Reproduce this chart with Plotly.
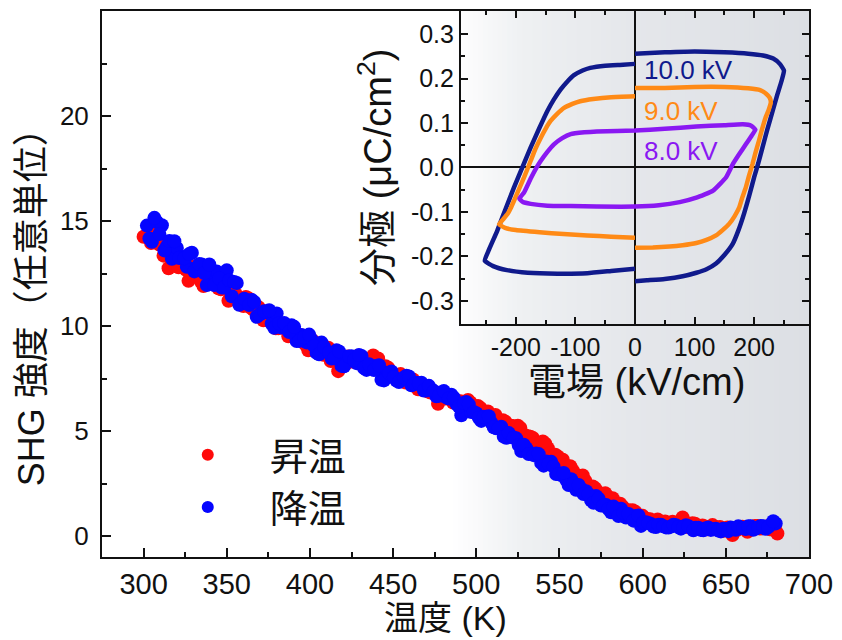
import plotly.graph_objects as go

# ---------------- main panel: SHG intensity vs temperature ----------------
temp_heating = [300, 303, 306, 309, 312, 315, 318, 321, 324, 327, 330, 333, 336, 339, 342, 345,
                348, 351, 354, 357, 360, 363, 366, 369, 372, 375, 378, 381, 384, 387, 390, 393,
                396, 399, 402, 405, 408, 411, 414, 417, 420, 423, 426, 429, 432, 435, 438, 441,
                444, 447, 450, 453, 456, 459, 462, 465, 468, 471, 474, 477, 480, 483, 486, 489,
                492, 495, 498, 501, 504, 507, 510, 513, 516, 519, 522, 525, 528, 531, 534, 537,
                540, 543, 546, 549, 552, 555, 558, 561, 564, 567, 570, 573, 576, 579, 582, 585,
                588, 591, 594, 597, 600, 603, 606, 609, 612, 615, 618, 621, 624, 627, 630, 633,
                636, 639, 642, 645, 648, 651, 654, 657, 660, 663, 666, 669, 672, 675, 678, 681,
                301.5, 304.5, 307.5, 310.5, 313.5, 316.5, 319.5, 322.5, 325.5, 328.5, 331.5, 334.5,
                337.5, 340.5, 343.5, 346.5, 349.5, 352.5, 355.5, 358.5, 361.5, 364.5, 367.5, 370.5,
                373.5, 376.5, 379.5, 382.5, 385.5, 388.5, 391.5, 394.5, 397.5, 400.5, 403.5, 406.5,
                409.5, 412.5, 415.5, 418.5, 421.5, 424.5, 427.5, 430.5, 433.5, 436.5, 439.5, 442.5,
                445.5, 448.5, 451.5, 454.5, 457.5, 460.5, 463.5, 466.5, 469.5, 472.5, 475.5, 478.5,
                481.5, 484.5, 487.5, 490.5, 493.5, 496.5, 499.5, 502.5, 505.5, 508.5, 511.5, 514.5,
                517.5, 520.5, 523.5, 526.5, 529.5, 532.5, 535.5, 538.5, 541.5, 544.5, 547.5, 550.5,
                553.5, 556.5, 559.5, 562.5, 565.5, 568.5, 571.5, 574.5, 577.5, 580.5, 583.5, 586.5,
                589.5, 592.5, 595.5, 598.5, 601.5, 604.5, 607.5, 610.5, 613.5, 616.5, 619.5, 622.5,
                625.5, 628.5, 631.5, 634.5, 637.5, 640.5, 643.5, 646.5, 649.5, 652.5, 655.5, 658.5,
                661.5, 664.5, 667.5, 670.5, 673.5, 676.5, 679.5]
shg_heating = [14.25, 14.3, 14.5, 13.9, 13.35, 12.75, 13.35, 12.8, 13.25, 12.15, 12.4, 12.9,
               11.9, 12.3, 12.25, 11.8, 12.15, 11.2, 11.65, 11.35, 10.95, 11.32, 10.77, 10.9,
               10.27, 10.4, 10.56, 9.89, 9.98, 9.51, 9.88, 9.41, 9.46, 8.84, 9.29, 8.94,
               8.63, 8.97, 8.35, 7.85, 8.08, 8.55, 8.3, 8.58, 8.09, 8.32, 8.6, 8.45,
               7.87, 8.01, 7.6, 7.62, 7.63, 7.33, 7.45, 6.99, 7.04, 6.88, 6.91, 6.3,
               6.67, 6.65, 6.36, 6.4, 6.22, 6.48, 6.16, 6.19, 5.75, 5.93, 5.72, 5.48,
               5.51, 5.15, 5.24, 5.25, 4.79, 4.75, 4.67, 4.36, 4.5, 4.18, 3.77, 3.79,
               3.63, 3.21, 3.12, 2.82, 2.88, 2.38, 2.36, 2.1, 1.75, 1.87, 1.8, 1.39,
               1.39, 1.23, 1.23, 0.8, 0.96, 0.8, 0.65, 0.79, 0.56, 0.63, 0.68, 0.54,
               0.88, 0.43, 0.61, 0.42, 0.5, 0.32, 0.52, 0.4, 0.24, 0.41, 0.05, 0.3,
               0.44, 0.2, 0.42, 0.48, 0.37, 0.45, 0.31, 0.12,
               14.3, 13.95, 14.32, 13.84, 13.68, 13.16, 13.35, 13.09, 12.68, 12.86, 12.5, 12.11,
               12.43, 12.13, 12.06, 11.75, 12.02, 11.51, 11.52, 11.02, 11.38, 10.87, 10.81, 10.78,
               10.3, 10.39, 9.89, 9.98, 10.04, 9.56, 9.59, 9.56, 9.1, 9.4, 8.95, 8.74,
               8.82, 8.33, 8.53, 8.58, 8.2, 8.42, 8.54, 8.22, 8.02, 8.3, 8.13, 7.85,
               8.08, 7.8, 7.63, 7.71, 7.31, 7.37, 7.27, 6.98, 7.08, 6.83, 6.78, 6.52,
               6.55, 6.62, 6.34, 6.42, 6.29, 6.36, 5.99, 6.1, 5.9, 5.7, 5.76, 5.35,
               5.44, 5.25, 5.06, 5.14, 4.79, 4.73, 4.42, 4.42, 4.39, 3.94, 3.87, 3.67,
               3.36, 3.32, 2.94, 2.83, 2.63, 2.22, 2.27, 1.98, 2.04, 1.75, 1.51, 1.54,
               1.19, 1.22, 1.16, 0.89, 0.85, 0.8, 0.58, 0.69, 0.69, 0.54, 0.61, 0.61,
               0.67, 0.49, 0.58, 0.38, 0.45, 0.4, 0.35, 0.43, 0.33, 0.39, 0.25, 0.39,
               0.36, 0.32, 0.48, 0.36, 0.44, 0.32, 0.43]

temp_cooling = [302, 305, 308, 311, 314, 317, 320, 323, 326, 329, 332, 335, 338, 341, 344, 347,
                350, 353, 356, 359, 362, 365, 368, 371, 374, 377, 380, 383, 386, 389, 392, 395,
                398, 401, 404, 407, 410, 413, 416, 419, 422, 425, 428, 431, 434, 437, 440, 443,
                446, 449, 452, 455, 458, 461, 464, 467, 470, 473, 476, 479, 482, 485, 488, 491,
                494, 497, 500, 503, 506, 509, 512, 515, 518, 521, 524, 527, 530, 533, 536, 539,
                542, 545, 548, 551, 554, 557, 560, 563, 566, 569, 572, 575, 578, 581, 584, 587,
                590, 593, 596, 599, 602, 605, 608, 611, 614, 617, 620, 623, 626, 629, 632, 635,
                638, 641, 644, 647, 650, 653, 656, 659, 662, 665, 668, 671, 674, 677, 680,
                303.5, 306.5, 309.5, 312.5, 315.5, 318.5, 321.5, 324.5, 327.5, 330.5, 333.5, 336.5,
                339.5, 342.5, 345.5, 348.5, 351.5, 354.5, 357.5, 360.5, 363.5, 366.5, 369.5, 372.5,
                375.5, 378.5, 381.5, 384.5, 387.5, 390.5, 393.5, 396.5, 399.5, 402.5, 405.5, 408.5,
                411.5, 414.5, 417.5, 420.5, 423.5, 426.5, 429.5, 432.5, 435.5, 438.5, 441.5, 444.5,
                447.5, 450.5, 453.5, 456.5, 459.5, 462.5, 465.5, 468.5, 471.5, 474.5, 477.5, 480.5,
                483.5, 486.5, 489.5, 492.5, 495.5, 498.5, 501.5, 504.5, 507.5, 510.5, 513.5, 516.5,
                519.5, 522.5, 525.5, 528.5, 531.5, 534.5, 537.5, 540.5, 543.5, 546.5, 549.5, 552.5,
                555.5, 558.5, 561.5, 564.5, 567.5, 570.5, 573.5, 576.5, 579.5, 582.5, 585.5, 588.5,
                591.5, 594.5, 597.5, 600.5, 603.5, 606.5, 609.5, 612.5, 615.5, 618.5, 621.5, 624.5,
                627.5, 630.5, 633.5, 636.5, 639.5, 642.5, 645.5, 648.5, 651.5, 654.5, 657.5, 660.5,
                663.5, 666.5, 669.5, 672.5, 675.5, 678.5]
shg_cooling = [14.78, 14.01, 14.95, 14.8, 13.79, 13.2, 13.72, 13.3, 12.82, 13.49, 12.79, 12.93,
               11.95, 12.52, 12.59, 11.83, 12.65, 11.42, 12.05, 11.13, 11.23, 11.24, 10.44, 10.61,
               10.66, 10.11, 10.6, 9.93, 9.9, 10.03, 9.28, 9.57, 9.22, 9.35, 8.72, 9.21,
               8.79, 8.45, 8.84, 8.1, 8.53, 8.56, 8.23, 8.57, 7.91, 8.05, 8.1, 7.44,
               7.77, 7.83, 7.4, 7.43, 7.63, 7.18, 7.3, 7.3, 6.93, 6.98, 6.65, 6.85,
               6.6, 6.73, 6.3, 5.75, 6.38, 5.9, 5.85, 5.48, 5.68, 5.4, 5.13, 5.2,
               4.68, 4.73, 4.65, 4.05, 4.18, 3.93, 3.93, 3.48, 3.55, 3.53, 2.95, 2.9,
               2.68, 2.7, 2.2, 2.25, 2.13, 1.7, 1.9, 1.45, 1.48, 1.13, 1.23, 1.3,
               0.88, 0.88, 0.95, 0.48, 0.65, 0.57, 0.43, 0.53, 0.41, 0.45, 0.51, 0.35,
               0.51, 0.38, 0.39, 0.29, 0.37, 0.29, 0.35, 0.22, 0.32, 0.4, 0.3, 0.41,
               0.33, 0.46, 0.36, 0.48, 0.34, 0.54, 0.6,
               14.17, 15.15, 14.38, 13.6, 14.05, 14.04, 13.24, 13.23, 13.43, 12.6, 12.95, 12.52,
               12.93, 11.95, 12.26, 11.83, 12.18, 12.1, 11.01, 11.3, 11.0, 11.14, 10.53, 10.7,
               10.75, 9.92, 10.13, 10.14, 9.71, 9.96, 9.29, 9.46, 9.59, 9.04, 8.65, 9.0,
               8.74, 8.47, 8.79, 8.08, 8.55, 8.38, 8.62, 8.0, 8.18, 7.9, 8.13, 7.41,
               7.76, 7.56, 7.33, 7.55, 7.6, 7.23, 7.25, 6.93, 7.15, 6.9, 6.68, 6.9,
               6.55, 6.58, 6.16, 6.33, 6.26, 5.9, 5.63, 5.68, 5.7, 5.18, 5.13, 4.73,
               4.9, 4.68, 4.33, 4.35, 3.9, 3.85, 3.9, 3.35, 3.43, 3.3, 2.95, 3.0,
               2.43, 2.5, 2.43, 2.0, 1.98, 1.58, 1.78, 1.45, 1.28, 1.4, 0.95, 1.1,
               1.05, 0.73, 0.98, 0.64, 0.62, 0.45, 0.54, 0.46, 0.4, 0.53, 0.43, 0.43,
               0.47, 0.27, 0.39, 0.27, 0.4, 0.32, 0.26, 0.35, 0.23, 0.34, 0.46, 0.38,
               0.46, 0.3, 0.4, 0.47, 0.43, 0.7]

series_names = ["昇温", "降温"]

# ---------------- inset: P-E hysteresis loops ----------------
field_10kv = [0, 50, 100, 150, 190, 215, 232, 243, 250, 246, 238, 231, 222, 214, 207, 200, 192, 183,
              174, 164, 150, 136, 120, 103, 80, 50, 20, 0, None,
              0, -40, -80, -130, -180, -215, -238, -252, -245, -231, -217, -203, -189, -175, -161,
              -147, -136, -125, -113, -103, -88, -75, -50, -20, 0]
pol_10kv = [0.256, 0.259, 0.261, 0.259, 0.256, 0.252, 0.245, 0.233, 0.218, 0.195, 0.16, 0.127,
            0.085, 0.045, 0.01, -0.022, -0.062, -0.104, -0.14, -0.172, -0.197, -0.216, -0.229,
            -0.237, -0.245, -0.251, -0.254, -0.256, None,
            -0.228, -0.233, -0.238, -0.239, -0.237, -0.231, -0.222, -0.21, -0.185, -0.142,
            -0.093, -0.045, 0.0, 0.045, 0.087, 0.127, 0.153, 0.175, 0.194, 0.207, 0.218,
            0.224, 0.229, 0.231, 0.233]

field_9kv = [0, 50, 100, 150, 190, 210, 220, 226, 228, 224, 219, 213, 208, 202, 197, 191, 186, 180,
             175, 167, 158, 147, 136, 120, 103, 80, 58, 30, 0, None,
             0, -40, -80, -120, -160, -200, -218, -228, -222, -214, -208, -203, -195, -186, -175,
             -167, -158, -150, -142, -131, -119, -105, -92, -70, -40, 0]
pol_9kv = [0.179, 0.179, 0.181, 0.181, 0.178, 0.174, 0.166, 0.157, 0.147, 0.128, 0.112, 0.085,
           0.06, 0.032, 0.007, -0.02, -0.045, -0.068, -0.09, -0.11, -0.127, -0.141, -0.153,
           -0.163, -0.17, -0.175, -0.178, -0.18, -0.181, None,
           -0.158, -0.156, -0.153, -0.15, -0.146, -0.141, -0.136, -0.128, -0.118, -0.105,
           -0.09, -0.075, -0.05, -0.022, 0.015, 0.042, 0.067, 0.087, 0.104, 0.12, 0.134,
           0.143, 0.149, 0.154, 0.158, 0.16]

field_8kv = [-194, -186, -175, -165, -158, -147, -136, -122, -108, -85, -64, -30, 0, 50, 103, 150,
             181, 195, 202, 196, 186, 175, 164, 153, 131, 103, 75, 40, 0, -64, -108, -147, -175,
             -188, -194]
pol_8kv = [-0.07, -0.056, -0.025, 0.0, 0.015, 0.035, 0.052, 0.066, 0.075, 0.079, 0.081, 0.082,
           0.083, 0.087, 0.092, 0.095, 0.097, 0.094, 0.085, 0.072, 0.052, 0.03, 0.007, -0.022,
           -0.052, -0.068, -0.078, -0.085, -0.088, -0.088, -0.087, -0.086, -0.082, -0.078, -0.07]

loop_labels = ["10.0 kV", "9.0 kV", "8.0 kV"]
loop_colors = ["#101a8c", "#ff8a16", "#8a18f2"]

main_xticks = [300, 350, 400, 450, 500, 550, 600, 650, 700]
main_yticks = [0, 5, 10, 15, 20]
inset_xticks = [-200, -100, 0, 100, 200]
inset_xticktext = ["-200", "-100", "0", "100", "200"]
inset_yticks = [-0.3, -0.2, -0.1, 0.0, 0.1, 0.2, 0.3]
inset_yticktext = ["-0.3", "-0.2", "-0.1", "0.0", "0.1", "0.2", "0.3"]

FONT = "Liberation Sans, Arial, Noto Sans CJK JP, sans-serif"
INK = "#111111"

fig = go.Figure()
fig.add_trace(go.Scatter(x=temp_heating, y=shg_heating, mode="markers", name=series_names[0],
                         marker=dict(color="#ff0a0a", size=14, line=dict(width=0))))
fig.add_trace(go.Scatter(x=temp_cooling, y=shg_cooling, mode="markers", name=series_names[1],
                         marker=dict(color="#0505ff", size=14, line=dict(width=0))))

for fx, py, col in [(field_10kv, pol_10kv, loop_colors[0]),
                    (field_9kv, pol_9kv, loop_colors[1]),
                    (field_8kv, pol_8kv, loop_colors[2])]:
    fig.add_trace(go.Scatter(x=fx, y=py, mode="lines", xaxis="x2", yaxis="y2", showlegend=False,
                             line=dict(color=col, width=4.5, shape="spline", smoothing=0.4),
                             connectgaps=False))

# background gradient (decorative) built from thin strips in paper coordinates
L, R, T, B = 102, 813, 9, 557
stops = [(0.0, (255, 255, 255)), (0.2, (238, 240, 242)), (0.5, (229, 231, 235)), (1.0, (220, 223, 228))]

def grad_color(t):
    for (t0, c0), (t1, c1) in zip(stops[:-1], stops[1:]):
        if t <= t1:
            f = (t - t0) / (t1 - t0)
            return "rgb(%d,%d,%d)" % tuple(round(a + (b - a) * f) for a, b in zip(c0, c1))
    return "rgb(%d,%d,%d)" % stops[-1][1]

g0, g1, n = 455, 813, 72
shapes = []
w = (g1 - g0) / n
for i in range(n):
    p0 = g0 + i * w
    p1 = min(p0 + w + 1, g1)
    shapes.append(dict(type="rect", xref="paper", yref="paper",
                       x0=(p0 - L) / (R - L), x1=(p1 - L) / (R - L), y0=0, y1=1,
                       fillcolor=grad_color((i + 0.5) / n), line=dict(width=0), layer="below"))

def px_x(p):
    return (p - L) / (R - L)

def px_y(p):
    return (B - p) / (B - T)

annotations = [
    dict(text="温度 (K)", x=px_x(447), y=px_y(618), xref="paper", yref="paper", showarrow=False,
         font=dict(size=34, family=FONT, color=INK), xanchor="center", yanchor="middle"),
    dict(text="SHG 強度（任意単位）", x=px_x(32), y=px_y(297), xref="paper", yref="paper",
         showarrow=False, textangle=-90,
         font=dict(size=36, family=FONT, color=INK), xanchor="center", yanchor="middle"),
    dict(text="電場 (kV/cm)", x=px_x(640), y=px_y(381), xref="paper", yref="paper", showarrow=False,
         font=dict(size=38, family=FONT, color=INK), xanchor="center", yanchor="middle"),
    dict(text="分極 (μC/cm<sup>2</sup>)", x=px_x(377), y=px_y(166), xref="paper", yref="paper",
         showarrow=False, textangle=-90,
         font=dict(size=38, family=FONT, color=INK), xanchor="center", yanchor="middle"),
]
label_pos = [(11, 0.22), (11, 0.127), (11, 0.037)]
for txt, col, (ex, py) in zip(loop_labels, loop_colors, label_pos):
    annotations.append(dict(text=txt, x=ex, y=py, xref="x2", yref="y2", showarrow=False,
                            xanchor="left", yanchor="middle",
                            font=dict(size=26, family=FONT, color=col)))

axis_common = dict(showgrid=False, showline=True, linecolor="#111111", linewidth=2,
                   ticks="inside", tickcolor="#111111", tickwidth=2)

fig.update_layout(
    width=842, height=640,
    margin=dict(l=L, r=842 - R, t=T, b=640 - B),
    paper_bgcolor="white", plot_bgcolor="rgba(0,0,0,0)",
    font=dict(family=FONT, color=INK),
    shapes=shapes,
    annotations=annotations,
    showlegend=True,
    legend=dict(x=px_x(146), y=px_y(423), xanchor="left", yanchor="top",
                bgcolor="rgba(0,0,0,0)", font=dict(size=38, family=FONT, color=INK),
                itemwidth=114, tracegroupgap=0, itemsizing="constant"),
    xaxis=dict(domain=[0, 1], range=[275, 700], tickvals=main_xticks, ticklen=9, mirror=True,
               zeroline=False, tickfont=dict(size=29),
               minor=dict(tickvals=[325, 375, 425, 475, 525, 575, 625, 675], ticks="inside",
                          ticklen=5, tickwidth=2, tickcolor="#111111"),
               **axis_common),
    yaxis=dict(domain=[0, 1], range=[-1, 25], tickvals=main_yticks, ticklen=9, mirror=True,
               zeroline=False, tickfont=dict(size=26), ticklabelstandoff=6,
               minor=dict(tickvals=[2.5, 7.5, 12.5, 17.5, 22.5], ticks="inside",
                          ticklen=5, tickwidth=2, tickcolor="#111111"),
               **axis_common),
    xaxis2=dict(domain=[px_x(463), 1], anchor="y2", range=[-292, 292], tickvals=inset_xticks,
                ticktext=inset_xticktext, ticklen=7, mirror="allticks",
                zeroline=True, zerolinecolor="#111111", zerolinewidth=1.5,
                tickfont=dict(size=25),
                minor=dict(tickvals=[-250, -150, -50, 50, 150, 250], ticks="inside",
                           ticklen=4, tickwidth=1.5, tickcolor="#111111"),
                **axis_common),
    yaxis2=dict(domain=[px_y(323), 1], anchor="x2", range=[-0.352, 0.352], tickvals=inset_yticks,
                ticktext=inset_yticktext, ticklen=7, mirror="allticks",
                zeroline=True, zerolinecolor="#111111", zerolinewidth=1.5,
                tickfont=dict(size=25),
                minor=dict(tickvals=[-0.25, -0.15, -0.05, 0.05, 0.15, 0.25], ticks="inside",
                           ticklen=4, tickwidth=1.5, tickcolor="#111111"),
                **axis_common),
)

fig.write_html("out.html")
